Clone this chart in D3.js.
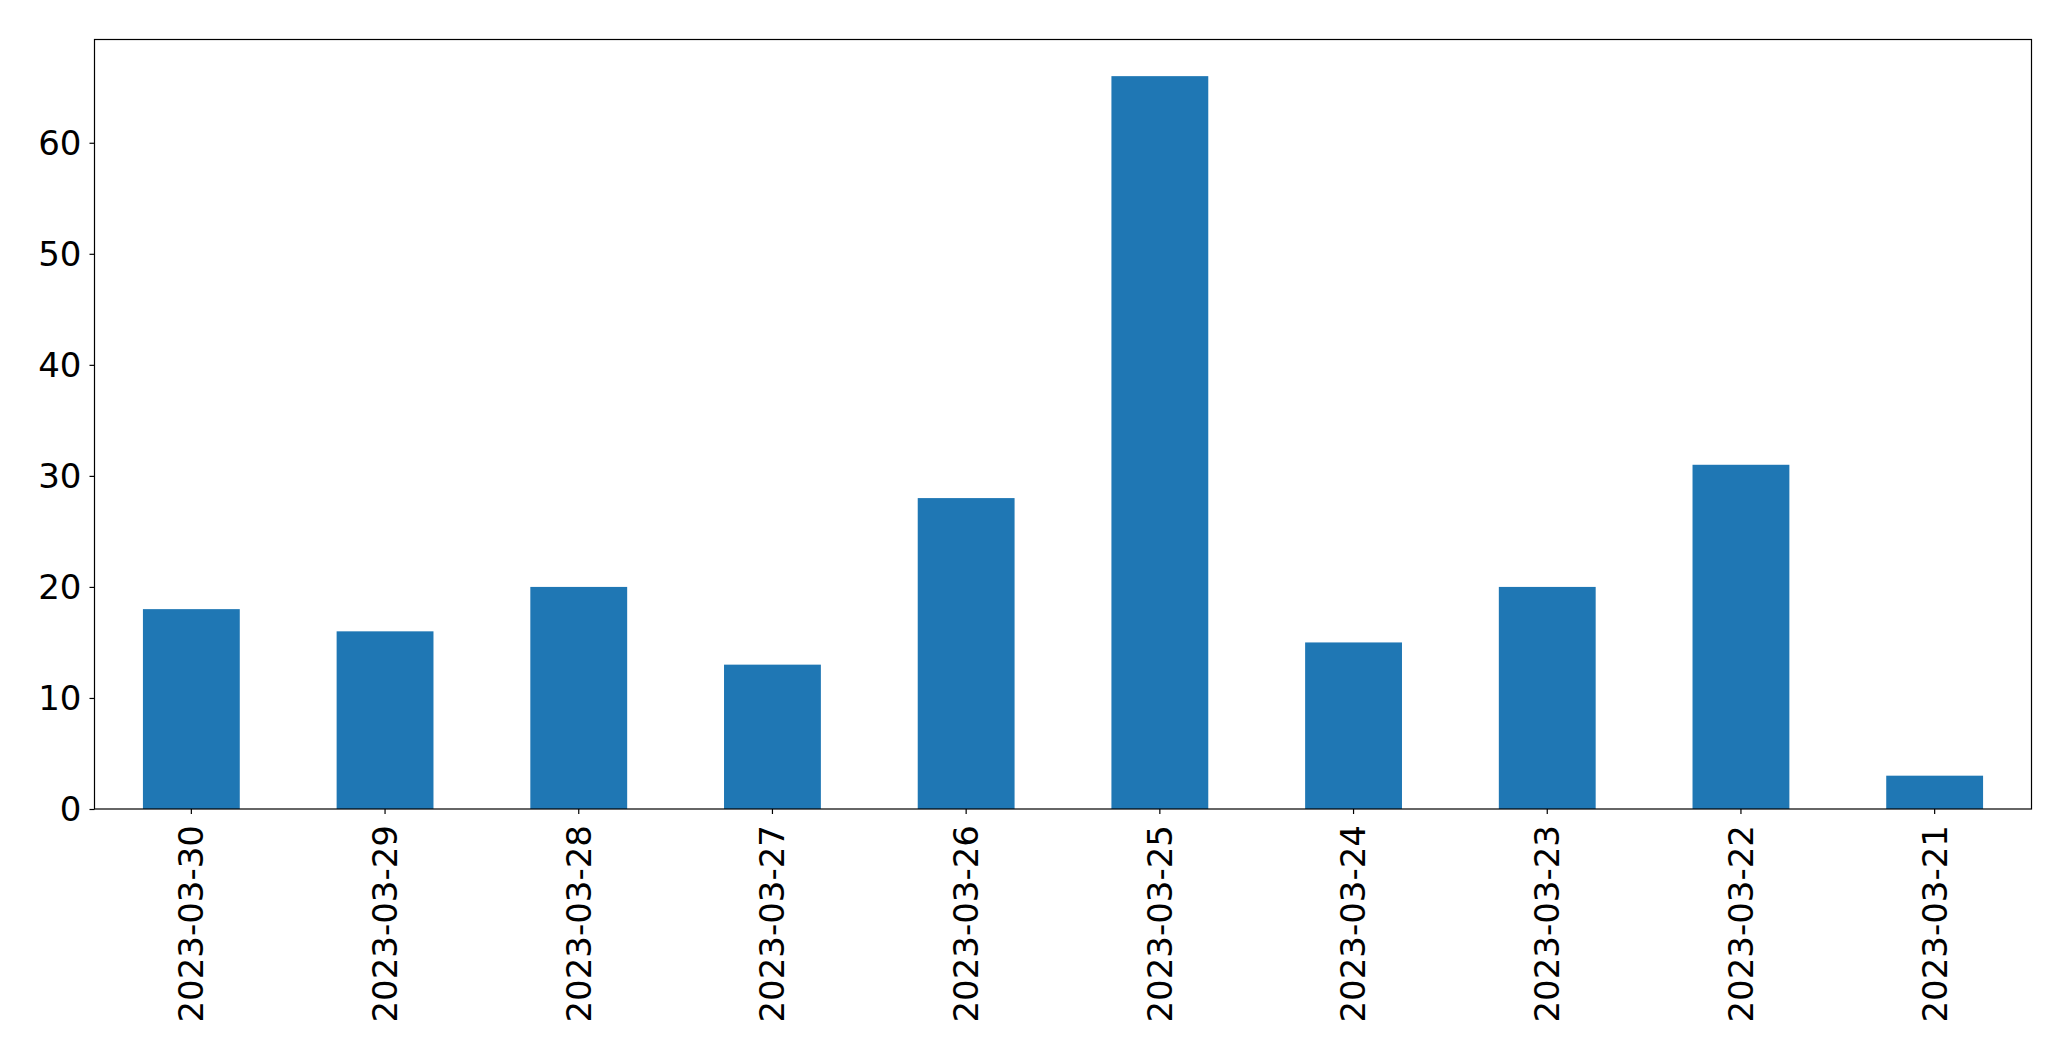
<!DOCTYPE html>
<html>
<head>
<meta charset="utf-8">
<script src="https://cdn.jsdelivr.net/npm/d3@7"></script>
<style>
  html, body { margin: 0; padding: 0; background: #fff; }
  svg { display: block; }
  text { font-family: "DejaVu Sans", sans-serif; }
</style>
</head>
<body>
<script>
const categories = ["2023-03-30","2023-03-29","2023-03-28","2023-03-27","2023-03-26","2023-03-25","2023-03-24","2023-03-23","2023-03-22","2023-03-21"];
const values = [18, 16, 20, 13, 28, 66, 15, 20, 31, 3];
const yTicks = [0, 10, 20, 30, 40, 50, 60];

const W = 2071, H = 1061;
const m = {left: 94.5, right: 2031.5, top: 39.5, bottom: 809};

const svg = d3.select("body").append("svg").attr("width", W).attr("height", H);

const x = d3.scaleBand().domain(categories).range([m.left, m.right]).paddingInner(0.5).paddingOuter(0.25);
const y = d3.scaleLinear().domain([0, d3.max(values) * 1.05]).range([m.bottom, m.top]);

svg.append("g").selectAll("rect").data(values).join("rect")
  .attr("x", (d, i) => x(categories[i]))
  .attr("width", x.bandwidth())
  .attr("y", d => y(d))
  .attr("height", d => y(0) - y(d))
  .attr("fill", "#1f77b4");

const yAxis = svg.append("g").attr("transform", `translate(${m.left},0)`)
  .call(d3.axisLeft(y).tickValues(yTicks).tickFormat(d3.format("d")).tickSize(5).tickPadding(8));
const xAxis = svg.append("g").attr("transform", `translate(0,${m.bottom})`)
  .call(d3.axisBottom(x).tickSize(5).tickPadding(8));

[yAxis, xAxis].forEach(g => {
  g.select(".domain").remove();
  g.selectAll("line").attr("stroke", "#000").attr("stroke-width", 1.2);
  g.selectAll("text").attr("font-size", 34).attr("fill", "#000").attr("font-family", "DejaVu Sans, sans-serif");
});

yAxis.selectAll("text").attr("dy", "0.35em");
xAxis.selectAll("text")
  .attr("transform", "rotate(-90)")
  .attr("text-anchor", "end")
  .attr("x", -16)
  .attr("y", 0)
  .attr("dy", "0.35em");

svg.append("rect")
  .attr("x", m.left).attr("y", m.top)
  .attr("width", m.right - m.left).attr("height", m.bottom - m.top)
  .attr("fill", "none").attr("stroke", "#000").attr("stroke-width", 1.2);
</script>
</body>
</html>
